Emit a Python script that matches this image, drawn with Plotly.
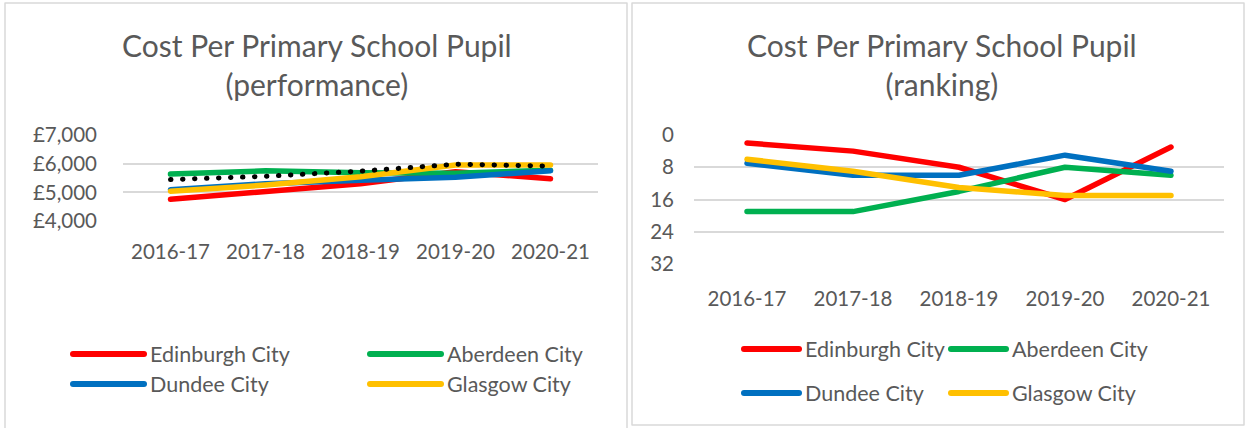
import plotly.graph_objects as go

# ---------------- data ----------------
years = ['2016-17', '2017-18', '2018-19', '2019-20', '2020-21']
councils = ['Edinburgh City', 'Aberdeen City', 'Dundee City', 'Glasgow City']
colours = ['#FF0000', '#00B050', '#0070C0', '#FFC000']

# cost per primary pupil (£)
cost_edinburgh = [4760, 5040, 5300, 5720, 5475]
cost_aberdeen = [5636, 5750, 5680, 5670, 5770]
cost_dundee = [5090, 5300, 5420, 5530, 5750]
cost_glasgow = [5040, 5255, 5540, 5950, 5950]
cost_scotland = [5445, 5560, 5740, 5980, 5915]  # dotted line, not in legend

# ranking out of 32
rank_edinburgh = [2, 4, 8, 16, 3]
rank_aberdeen = [19, 19, 14, 8, 10]
rank_dundee = [7, 10, 10, 5, 9]
rank_glasgow = [6, 9, 13, 15, 15]

cost_ticks = [4000, 5000, 6000, 7000]
cost_tick_labels = ['£4,000', '£5,000', '£6,000', '£7,000']
rank_ticks = [0, 8, 16, 24, 32]

cost_series = [cost_edinburgh, cost_aberdeen, cost_dundee, cost_glasgow]
rank_series = [rank_edinburgh, rank_aberdeen, rank_dundee, rank_glasgow]

# ---------------- page geometry (pixels) ----------------
W, H = 1247, 428
FONT = 'Lato'
GREY = '#595959'
GRID = '#D9D9D9'


def px(x):
    return x / W


def py(y):
    return 1 - y / H


fig = go.Figure()

for name, col, vals in zip(councils, colours, cost_series):
    fig.add_trace(go.Scatter(x=years, y=vals, name=name, mode='lines',
                             line=dict(color=col, width=5.5),
                             xaxis='x', yaxis='y', showlegend=False))
fig.add_trace(go.Scatter(x=years, y=cost_scotland, name='Scotland', mode='lines',
                         line=dict(color='black', width=5, dash='0.5px,11.5px'),
                         xaxis='x', yaxis='y', showlegend=False))

for name, col, vals in zip(councils, colours, rank_series):
    fig.add_trace(go.Scatter(x=years, y=vals, name=name, mode='lines',
                             line=dict(color=col, width=5.5),
                             xaxis='x2', yaxis='y2', showlegend=False))

tickfont = dict(family=FONT, size=20.5, color=GREY)

fig.update_layout(
    template='none',
    width=W, height=H,
    margin=dict(l=0, r=0, t=0, b=0, autoexpand=False),
    paper_bgcolor='white', plot_bgcolor='white',
    showlegend=False,
    xaxis=dict(domain=[px(123), px(598)], type='category', range=[-0.5, 4.5],
               showgrid=False, zeroline=False, showline=False, ticks='',
               automargin=False,
               tickfont=tickfont, ticklabelstandoff=16, anchor='y'),
    yaxis=dict(domain=[py(221), py(135)], range=[4000, 7000],
               tickvals=cost_ticks, ticktext=cost_tick_labels,
               gridcolor=GRID, gridwidth=1.5, zeroline=False, showline=False,
               ticks='', automargin=False,
               tickfont=tickfont, ticklabelstandoff=25, anchor='x'),
    xaxis2=dict(domain=[px(694), px(1224)], type='category', range=[-0.5, 4.5],
                showgrid=False, zeroline=False, showline=False, ticks='',
                automargin=False,
                tickfont=tickfont, ticklabelstandoff=20, anchor='y2'),
    yaxis2=dict(domain=[py(264), py(135)], range=[32, 0],
                tickvals=rank_ticks,
                gridcolor=GRID, gridwidth=1.5, zeroline=False, showline=False,
                ticks='', automargin=False,
                tickfont=tickfont, ticklabelstandoff=19, anchor='x2'),
)

# panel borders
fig.add_shape(type='rect', xref='paper', yref='paper',
              x0=px(5), x1=px(627), y0=py(432), y1=py(3),
              line=dict(color=GRID, width=1.5), layer='below')
fig.add_shape(type='rect', xref='paper', yref='paper',
              x0=px(632), x1=px(1244), y0=py(425), y1=py(3),
              line=dict(color=GRID, width=1.5), layer='below')

# titles
fig.add_annotation(text='Cost Per Primary School Pupil<br>(performance)',
                   xref='paper', yref='paper', x=px(317), y=py(65),
                   xanchor='center', yanchor='middle',
                   showarrow=False, font=dict(family=FONT, size=30, color=GREY))
fig.add_annotation(text='Cost Per Primary School Pupil<br>(ranking)',
                   xref='paper', yref='paper', x=px(942), y=py(65),
                   xanchor='center', yanchor='middle',
                   showarrow=False, font=dict(family=FONT, size=30, color=GREY))

# legends drawn by hand: (sample start, sample end, row y) per entry
left_legend = [(73, 144, 354), (370, 441, 354), (73, 144, 384), (370, 441, 384)]
right_legend = [(744, 799, 349), (951, 1006, 349), (744, 799, 393), (951, 1006, 393)]

for spec in (left_legend, right_legend):
    for (x0, x1, yy), name, col in zip(spec, councils, colours):
        fig.add_shape(type='line', xref='paper', yref='paper',
                      x0=px(x0), x1=px(x1), y0=py(yy), y1=py(yy),
                      line=dict(color=col, width=6))
        fig.add_annotation(text=name, xref='paper', yref='paper',
                           x=px(x1 + 4), y=py(yy), xanchor='left', yanchor='middle',
                           showarrow=False, font=dict(family=FONT, size=21.5, color=GREY))

# round line ends like the original, and no page margin
post = """
document.body.style.margin = '0';
var gd = document.getElementById('{plot_id}');
gd.querySelectorAll('path.js-line, .shapelayer path').forEach(function(p) {
    p.style.strokeLinecap = 'round';
    p.style.strokeLinejoin = 'round';
});
"""

fig.write_html("out.html", post_script=post, config={'displayModeBar': False})
